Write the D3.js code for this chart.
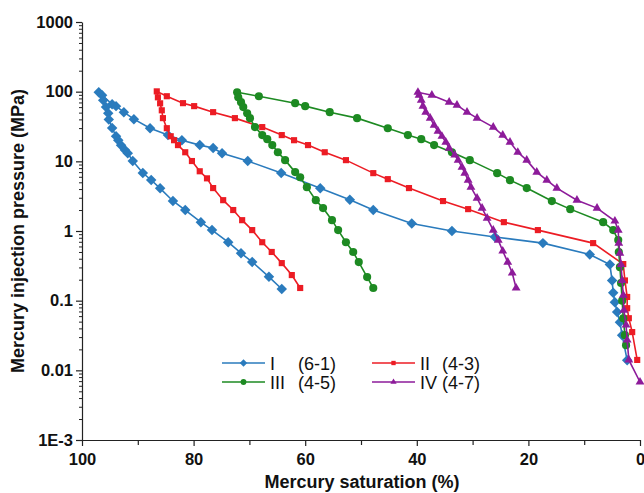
<!DOCTYPE html>
<html>
<head>
<meta charset="utf-8">
<script src="https://cdn.jsdelivr.net/npm/d3@7"></script>
<style>
  html, body { margin: 0; padding: 0; background: #fff; }
  svg { display: block; }
</style>
</head>
<body>
<svg id="chart" width="644" height="493"></svg>
<script>
// Capillary pressure curves: mercury injection (rising) then withdrawal (falling).
// Each point is [mercury saturation %, pressure MPa].
const seriesNames = ["I", "II", "III", "IV"];
const sampleIds = ["(6-1)", "(4-3)", "(4-5)", "(4-7)"];

const injectionI = [
  [2.3, 0.014], [3.2, 0.032], [3.6, 0.049], [4.1, 0.069], [4.5, 0.095], [4.8, 0.13],
  [5.0, 0.195], [5.4, 0.33], [9.0, 0.46], [17.4, 0.67], [26.0, 0.82], [33.7, 1.0],
  [40.9, 1.28], [47.8, 2.0], [52.0, 2.8], [57.3, 4.1], [64.3, 6.8], [70.3, 10.1],
  [74.9, 13.1], [76.5, 15.5], [78.9, 17.1], [82.1, 20.1], [84.6, 23.8], [87.8, 29.9],
  [90.7, 40.3], [92.5, 50.8], [93.9, 62], [94.6, 66], [96.4, 89], [97.0, 98]
];
const withdrawalI = [
  [97.0, 98], [96.2, 75], [95.7, 60], [95.3, 49], [95.2, 40], [94.6, 30], [93.9, 23],
  [93.5, 20], [93.0, 17], [92.3, 14.5], [91.8, 13.1], [90.9, 10.1], [89.1, 6.8],
  [87.6, 5.4], [86.0, 4.1], [83.7, 2.7], [81.5, 2.0], [78.7, 1.34], [76.7, 1.03],
  [73.8, 0.69], [71.5, 0.48], [69.5, 0.36], [66.5, 0.22], [64.2, 0.147]
];

const injectionII = [
  [0.5, 0.0141], [1.4, 0.0354], [2.0, 0.056], [2.3, 0.078], [2.3, 0.113], [2.7, 0.195],
  [3.0, 0.335], [8.4, 0.67], [18.3, 1.03], [24.4, 1.34], [30.8, 2.06], [35.3, 2.69],
  [41.4, 4.13], [45.2, 5.55], [47.8, 6.77], [52.7, 10.4], [56.5, 13.5], [59.5, 17.1],
  [62.0, 20.1], [64.2, 23.8], [67.7, 31], [72.6, 41.7], [76.5, 50.8], [79.9, 62],
  [81.9, 68.4], [84.8, 86], [86.6, 101]
];
const withdrawalII = [
  [86.6, 101], [86.4, 83], [86.0, 68], [85.7, 54], [85.5, 41.7], [84.8, 29.9],
  [84.1, 22.9], [83.5, 20.1], [82.8, 17.1], [81.5, 13.5], [80.3, 10.1], [78.9, 7.2],
  [77.6, 5.7], [76.5, 4.13], [74.7, 2.77], [72.9, 2.0], [71.3, 1.43], [69.5, 1.03],
  [67.7, 0.69], [66.0, 0.50], [64.2, 0.346], [62.4, 0.233], [60.9, 0.152]
];

const injectionIII = [
  [2.5, 0.023], [2.7, 0.032], [3.0, 0.056], [3.2, 0.1], [3.4, 0.179], [3.6, 0.303],
  [3.8, 0.5], [3.9, 0.74], [4.8, 1.03], [6.6, 1.34], [12.5, 2.06], [15.8, 2.69],
  [20.3, 4.13], [23.3, 5.37], [25.6, 6.77], [30.5, 10.4], [33.7, 13.5], [36.9, 17.1],
  [39.2, 20.8], [41.6, 23.8], [45.2, 29.9], [50.7, 41.7], [55.6, 50.8], [60.0, 62],
  [61.8, 68.4], [68.3, 86], [72.2, 98]
];
const withdrawalIII = [
  [72.2, 98], [72.0, 83], [71.5, 70.7], [71.1, 60], [70.4, 49], [69.9, 41.7],
  [69.0, 31], [67.7, 23.8], [66.8, 20.8], [65.9, 17.1], [64.9, 13.5], [63.6, 10.4],
  [61.8, 7.0], [60.9, 5.9], [59.7, 4.26], [58.1, 2.77], [56.8, 2.13], [55.2, 1.43],
  [54.1, 1.03], [52.7, 0.69], [51.4, 0.5], [50.4, 0.358], [48.9, 0.218], [47.8, 0.152]
];

const injectionIV = [
  [0.0, 0.0068], [2.0, 0.0141], [2.3, 0.0272], [2.5, 0.0447], [2.9, 0.073], [3.0, 0.12],
  [3.2, 0.195], [3.4, 0.33], [3.6, 0.48], [3.8, 0.67], [3.9, 1.03], [4.5, 1.39],
  [7.7, 2.13], [11.3, 2.77], [14.9, 4.13], [16.7, 5.37], [18.5, 7.0], [20.3, 10.4],
  [21.9, 13.5], [23.3, 18.9], [24.6, 23.8], [26.3, 31], [29.2, 41.7], [31.0, 50.8],
  [32.8, 64], [34.2, 70.7], [37.3, 89], [39.8, 98]
];
const withdrawalIV = [
  [39.8, 98], [39.6, 89], [39.2, 75.5], [38.9, 62], [38.4, 50.8], [37.6, 41.7],
  [36.9, 33], [36.2, 27.1], [35.5, 22.9], [34.8, 18.9], [34.2, 15.5], [33.2, 12.3],
  [32.6, 10.4], [31.9, 8.26], [31.4, 6.77], [30.8, 5.37], [30.3, 4.26], [29.2, 2.96],
  [28.3, 2.13], [27.4, 1.53], [26.3, 1.03], [25.4, 0.74], [24.6, 0.516], [23.7, 0.358],
  [22.9, 0.249], [22.2, 0.152]
];

const xTicks = [100, 80, 60, 40, 20, 0];
const xMinorTicks = [90, 70, 50, 30, 10];
const yTicks = [1000, 100, 10, 1, 0.1, 0.01, 0.001];
const yTickLabels = ["1000", "100", "10", "1", "0.1", "0.01", "1E-3"];

const series = [
  { name: seriesNames[0], id: sampleIds[0], color: "#2a7bbd", symbol: d3.symbolDiamond2, size: 70, pts: injectionI.concat(withdrawalI.slice(1)) },
  { name: seriesNames[1], id: sampleIds[1], color: "#ec1c24", symbol: d3.symbolSquare2, size: 48, pts: injectionII.concat(withdrawalII.slice(1)) },
  { name: seriesNames[2], id: sampleIds[2], color: "#1d8a22", symbol: d3.symbolCircle, size: 52, pts: injectionIII.concat(withdrawalIII.slice(1)) },
  { name: seriesNames[3], id: sampleIds[3], color: "#8d1b9a", symbol: d3.symbolTriangle2, size: 56, pts: injectionIV.concat(withdrawalIV.slice(1)) }
];

const svg = d3.select("#chart");
const plotLeft = 82, plotRight = 640, plotTop = 22, plotBottom = 440;

const x = d3.scaleLinear().domain([100, 0]).range([plotLeft, plotRight]);
const y = d3.scaleLog().domain([0.001, 1000]).range([plotBottom, plotTop]);

const font = "Arial, 'Liberation Sans', Helvetica, sans-serif";
const axisColor = "#222";

// X axis
const xAxis = svg.append("g").attr("transform", `translate(0,${plotBottom})`)
  .call(d3.axisBottom(x).tickValues(xTicks).tickSize(6).tickSizeOuter(0).tickFormat(d3.format("d")));
xAxis.select(".domain").attr("stroke", axisColor).attr("stroke-width", 1.2);
xAxis.selectAll(".tick line").attr("stroke", axisColor).attr("stroke-width", 1.2);
xAxis.selectAll(".tick text").attr("font-family", font).attr("font-size", 16.5)
  .attr("font-weight", "bold").attr("fill", "#111").attr("dy", "0.95em");
svg.append("g").attr("transform", `translate(0,${plotBottom})`)
  .call(d3.axisBottom(x).tickValues(xMinorTicks).tickSize(5).tickFormat(""))
  .call(g => g.select(".domain").remove())
  .selectAll(".tick line").attr("stroke", axisColor).attr("stroke-width", 1.2);

// Y axis
const yAxis = svg.append("g").attr("transform", `translate(${plotLeft},0)`)
  .call(d3.axisLeft(y).tickValues(yTicks).tickSize(6).tickSizeOuter(0)
    .tickFormat((d, i) => yTickLabels[i]));
yAxis.select(".domain").attr("stroke", axisColor).attr("stroke-width", 1.2);
yAxis.selectAll(".tick line").attr("stroke", axisColor).attr("stroke-width", 1.2);
yAxis.selectAll(".tick text").attr("font-family", font).attr("font-size", 16.5)
  .attr("font-weight", "bold").attr("fill", "#111").attr("x", -9);

const yMinor = [];
for (let e = -3; e < 3; e++) for (let m = 2; m <= 9; m++) yMinor.push(m * Math.pow(10, e));
svg.append("g").attr("transform", `translate(${plotLeft},0)`)
  .call(d3.axisLeft(y).tickValues(yMinor).tickSize(3).tickFormat(""))
  .call(g => g.select(".domain").remove())
  .selectAll(".tick line").attr("stroke", axisColor).attr("stroke-width", 1);

// Axis titles
svg.append("text").attr("x", 362).attr("y", 488).attr("text-anchor", "middle")
  .attr("font-family", font).attr("font-size", 18).attr("font-weight", "bold").attr("fill", "#111")
  .text("Mercury saturation (%)");
svg.append("text").attr("transform", "translate(24,231) rotate(-90)").attr("text-anchor", "middle")
  .attr("font-family", font).attr("font-size", 18).attr("font-weight", "bold").attr("fill", "#111")
  .text("Mercury injection pressure (MPa)");

// Curves
const line = d3.line().x(d => x(d[0])).y(d => y(d[1]));
const curves = svg.append("g");
series.forEach(s => {
  const g = curves.append("g");
  g.append("path").datum(s.pts).attr("d", line).attr("fill", "none")
    .attr("stroke", s.color).attr("stroke-width", 1.6);
  g.selectAll("path.m").data(s.pts).join("path").attr("class", "m")
    .attr("transform", d => `translate(${x(d[0])},${y(d[1])})`)
    .attr("d", d3.symbol().type(s.symbol).size(s.size)).attr("fill", s.color);
});

// Legend
const legendCols = [222, 372];
const legendRows = [363, 382];
const idOffsets = [76, 70];
const legend = svg.append("g");
series.forEach((s, i) => {
  const col = i % 2;
  const lx = legendCols[col], ly = legendRows[Math.floor(i / 2)];
  legend.append("line").attr("x1", lx).attr("x2", lx + 43).attr("y1", ly).attr("y2", ly)
    .attr("stroke", s.color).attr("stroke-width", 1.6);
  legend.append("path").attr("transform", `translate(${lx + 21.5},${ly})`)
    .attr("d", d3.symbol().type(s.symbol).size(s.size * 0.5)).attr("fill", s.color);
  legend.append("text").attr("x", lx + 48).attr("y", ly + 6.5)
    .attr("font-family", font).attr("font-size", 18).attr("fill", "#111").text(s.name);
  legend.append("text").attr("x", lx + idOffsets[col]).attr("y", ly + 6.5)
    .attr("font-family", font).attr("font-size", 18).attr("fill", "#111").text(s.id);
});
</script>
</body>
</html>
